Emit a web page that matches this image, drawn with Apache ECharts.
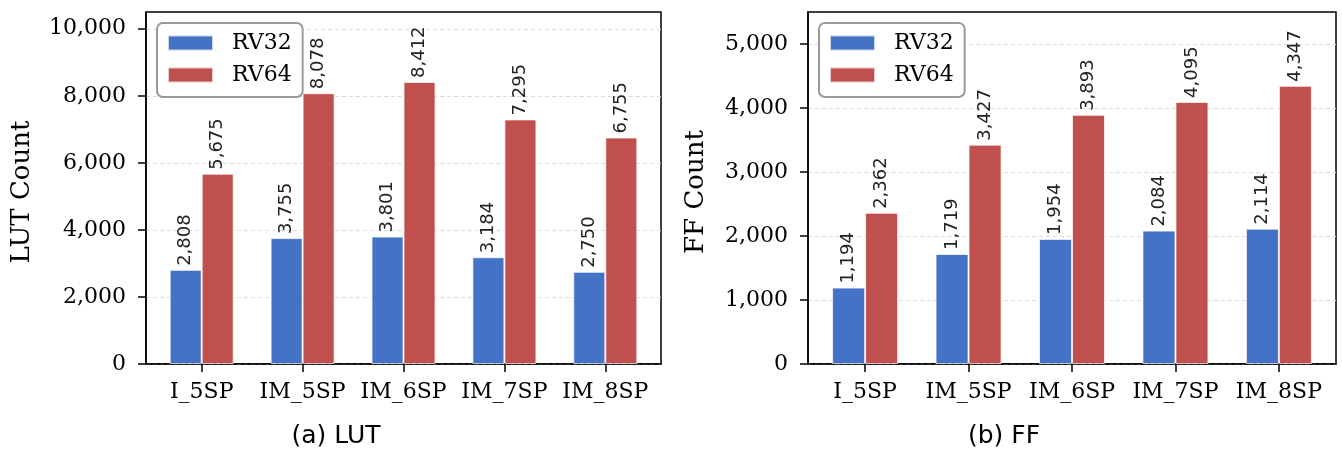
<!DOCTYPE html>
<html>
<head>
<meta charset="utf-8">
<script src="https://cdn.jsdelivr.net/npm/echarts@6/dist/echarts.min.js"></script>
<style>
html,body{margin:0;padding:0;background:#fff;}
#chart{width:1342px;height:451px;}
</style>
</head>
<body>
<div id="chart"></div>
<script>
const categories = ['I_5SP', 'IM_5SP', 'IM_6SP', 'IM_7SP', 'IM_8SP'];
const seriesNames = ['RV32', 'RV64'];
const lutRV32 = [2808, 3755, 3801, 3184, 2750];
const lutRV64 = [5675, 8078, 8412, 7295, 6755];
const ffRV32 = [1194, 1719, 1954, 2084, 2114];
const ffRV64 = [2362, 3427, 3893, 4095, 4347];
const lutTicks = [0, 2000, 4000, 6000, 8000, 10000];
const ffTicks = [0, 1000, 2000, 3000, 4000, 5000];
const captions = ['(a) LUT', '(b) FF'];
const yTitles = ['LUT Count', 'FF Count'];

const BLUE = '#4472C4', RED = '#C0504D';
const SERIF = 'DejaVu Serif', SANS = 'DejaVu Sans';
const fmt = v => String(Math.round(v)).replace(/\B(?=(\d{3})+(?!\d))/g, ',');
const catIdx = categories.map((c, i) => i);

const chart = echarts.init(document.getElementById('chart'), null, {renderer: 'canvas'});

function xAxis(gi) {
  return {
    type: 'value', gridIndex: gi, min: -0.552, max: 4.552,
    axisLine: {show: true, onZero: false, lineStyle: {color: '#000', width: 1.5}},
    axisTick: {show: true, customValues: catIdx, length: 8, lineStyle: {color: '#000', width: 1.5}},
    axisLabel: {customValues: catIdx, formatter: v => categories[Math.round(v)] || '',
      fontFamily: SERIF, fontSize: 22, color: '#000', margin: 17},
    splitLine: {show: false}
  };
}
function yAxis(gi, max, interval, ticks) {
  return {
    type: 'value', gridIndex: gi, min: 0, max: max, interval: interval,
    axisLine: {show: true, onZero: false, lineStyle: {color: '#000', width: 1.5}},
    axisTick: {show: true, customValues: ticks, length: 8, lineStyle: {color: '#000', width: 1.5}},
    axisLabel: {customValues: ticks, formatter: v => fmt(v), fontFamily: SERIF, fontSize: 22, color: '#000', margin: 20},
    splitLine: {show: true, lineStyle: {color: '#dcdcdc', width: 1, type: [4, 3]}}
  };
}
function barSeries(name, data, gi, color, width) {
  return {
    type: 'bar', name: name, xAxisIndex: gi, yAxisIndex: gi,
    data: data.map((v, i) => [i, v]),
    barWidth: width, barGap: '0%',
    itemStyle: {color: color, borderColor: 'rgba(255,255,255,0.7)', borderWidth: 1},
    label: {show: true, position: 'top', rotate: 90, align: 'left', verticalAlign: 'middle', distance: 4,
      formatter: p => fmt(p.value[1]), fontFamily: SANS, fontSize: 18, color: '#222'},
    emphasis: {disabled: true}
  };
}
function legend(left) {
  return {
    orient: 'vertical', left: left, top: 23,
    data: seriesNames,
    itemWidth: 45, itemHeight: 15, itemGap: 10,
    padding: [9, 11, 11, 10],
    borderColor: '#9a9a9a', borderWidth: 2, borderRadius: 6,
    backgroundColor: 'rgba(255,255,255,0.85)',
    icon: 'rect',
    textStyle: {fontFamily: SERIF, fontSize: 22, color: '#000', lineHeight: 22, padding: [0, 0, 0, 14]},
    selectedMode: false
  };
}

chart.setOption({
  animation: false,
  backgroundColor: '#fff',
  grid: [
    {left: 146, top: 12, width: 515, height: 352, show: true, borderColor: '#000', borderWidth: 1.5, containLabel: false},
    {left: 808, top: 12, width: 528, height: 352, show: true, borderColor: '#000', borderWidth: 1.5, containLabel: false}
  ],
  xAxis: [xAxis(0), xAxis(1)],
  yAxis: [yAxis(0, 10500, 2000, lutTicks), yAxis(1, 5500, 1000, ffTicks)],
  legend: [legend(157), legend(819)],
  series: [
    barSeries(seriesNames[0], lutRV32, 0, BLUE, 32),
    barSeries(seriesNames[1], lutRV64, 0, RED, 32),
    barSeries(seriesNames[0], ffRV32, 1, BLUE, 33),
    barSeries(seriesNames[1], ffRV64, 1, RED, 33)
  ],
  graphic: [
    {type: 'text', x: 22, y: 192, rotation: Math.PI / 2,
      style: {text: yTitles[0], font: '26px "DejaVu Serif"', fill: '#000', align: 'center', verticalAlign: 'middle'}},
    {type: 'text', x: 696, y: 192, rotation: Math.PI / 2,
      style: {text: yTitles[1], font: '26px "DejaVu Serif"', fill: '#000', align: 'center', verticalAlign: 'middle'}},
    {type: 'text', x: 336, y: 436,
      style: {text: captions[0], font: '25px "DejaVu Sans"', fill: '#000', align: 'center', verticalAlign: 'middle'}},
    {type: 'text', x: 1004, y: 436,
      style: {text: captions[1], font: '25px "DejaVu Sans"', fill: '#000', align: 'center', verticalAlign: 'middle'}}
  ]
});
</script>
</body>
</html>
